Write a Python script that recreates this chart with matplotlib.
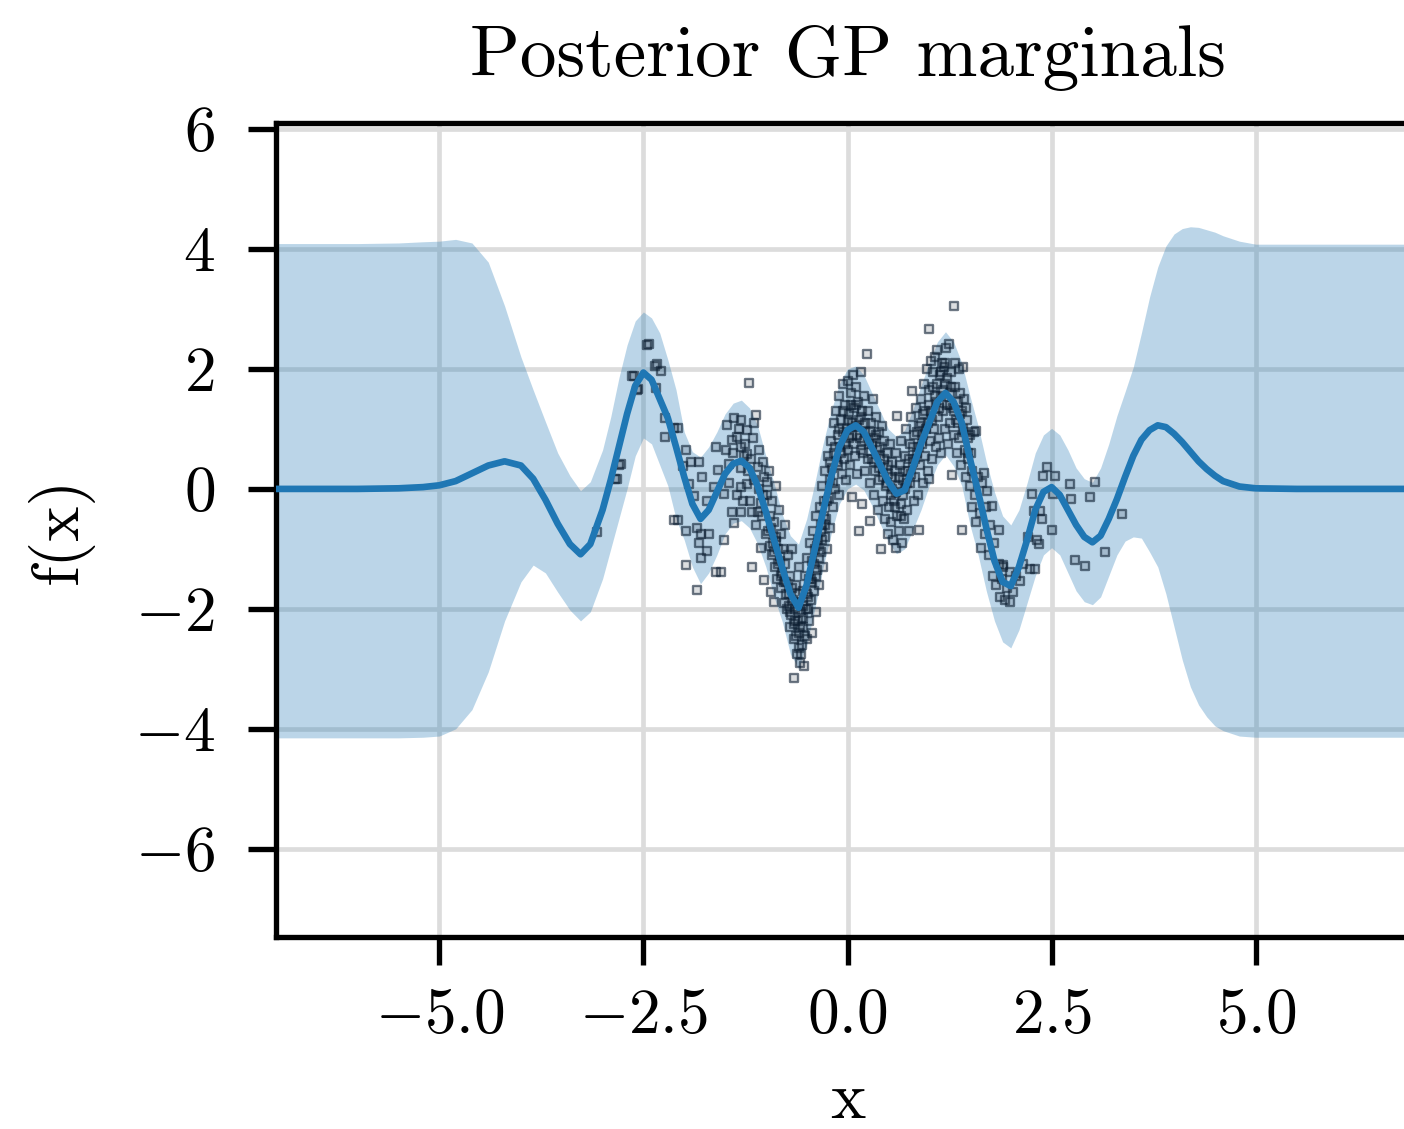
import matplotlib
matplotlib.use("Agg")
import matplotlib.pyplot as plt
import numpy as np

plt.rcParams["font.family"] = "serif"
plt.rcParams["font.serif"] = ["cmr10"]
plt.rcParams["mathtext.fontset"] = "cm"
plt.rcParams["axes.formatter.use_mathtext"] = True

# posterior marginals
grid_x = [-7.0, -6.0, -5.5, -5.2, -5.0, -4.8, -4.6, -4.4, -4.2, -4.0,
          -3.85, -3.7, -3.55, -3.4, -3.27, -3.15, -3.0, -2.9, -2.8, -2.7,
          -2.6, -2.5, -2.4, -2.3, -2.2, -2.1, -2.0, -1.9, -1.8, -1.7,
          -1.6, -1.5, -1.4, -1.3, -1.2, -1.1, -1.0, -0.9, -0.8, -0.7,
          -0.6, -0.5, -0.4, -0.3, -0.2, -0.1, 0.0, 0.1, 0.2, 0.3,
          0.4, 0.5, 0.6, 0.7, 0.8, 0.9, 1.0, 1.1, 1.2, 1.3,
          1.4, 1.5, 1.6, 1.7, 1.8, 1.9, 2.0, 2.1, 2.2, 2.3,
          2.4, 2.5, 2.6, 2.7, 2.8, 2.9, 3.0, 3.1, 3.2, 3.3,
          3.4, 3.5, 3.6, 3.7, 3.8, 3.9, 4.0, 4.1, 4.2, 4.3,
          4.4, 4.5, 4.6, 4.8, 5.0, 5.5, 6.0, 7.0]
post_mean = [0.00, 0.00, 0.01, 0.03, 0.06, 0.13, 0.26, 0.39, 0.46, 0.39,
             0.17, -0.18, -0.58, -0.92, -1.09, -0.92, -0.35, 0.15, 0.70, 1.25,
             1.72, 1.94, 1.82, 1.50, 1.18, 0.70, 0.20, -0.25, -0.50, -0.35,
             -0.05, 0.25, 0.42, 0.47, 0.35, 0.05, -0.38, -0.85, -1.31, -1.75,
             -1.98, -1.60, -1.00, -0.38, 0.20, 0.70, 0.98, 1.06, 0.95, 0.68,
             0.40, 0.12, -0.08, -0.02, 0.35, 0.75, 1.10, 1.45, 1.60, 1.45,
             1.10, 0.50, -0.05, -0.65, -1.20, -1.55, -1.62, -1.30, -0.85, -0.35,
             -0.05, 0.03, -0.10, -0.35, -0.60, -0.80, -0.89, -0.78, -0.50, -0.17,
             0.20, 0.55, 0.82, 0.98, 1.06, 1.03, 0.92, 0.78, 0.62, 0.46,
             0.33, 0.22, 0.13, 0.04, 0.01, 0.00, 0.00, 0.00]
band_hi = [4.09, 4.09, 4.10, 4.12, 4.13, 4.16, 4.10, 3.78, 3.05, 2.20,
           1.65, 1.12, 0.60, 0.22, -0.03, 0.12, 0.65, 1.20, 1.85, 2.40,
           2.80, 2.95, 2.85, 2.60, 2.15, 1.65, 0.95, 0.62, 0.53, 0.70,
           0.95, 1.25, 1.43, 1.48, 1.35, 1.05, 0.55, 0.10, -0.42, -0.78,
           -0.92, -0.50, 0.10, 0.75, 1.30, 1.75, 2.00, 2.05, 1.90, 1.60,
           1.30, 1.00, 0.87, 0.98, 1.32, 1.72, 2.10, 2.45, 2.62, 2.45,
           2.10, 1.55, 1.05, 0.45, -0.05, -0.45, -0.60, -0.35, 0.10, 0.60,
           0.90, 1.01, 0.90, 0.65, 0.35, 0.17, 0.11, 0.35, 0.75, 1.22,
           1.62, 2.03, 2.60, 3.20, 3.70, 4.05, 4.25, 4.34, 4.37, 4.36,
           4.32, 4.28, 4.22, 4.13, 4.08, 4.08, 4.08, 4.08]
band_lo = [-4.15, -4.15, -4.15, -4.14, -4.12, -4.00, -3.68, -3.05, -2.20, -1.55,
           -1.27, -1.40, -1.72, -2.02, -2.20, -2.05, -1.50, -1.00, -0.50, 0.00,
           0.55, 0.85, 0.75, 0.40, 0.05, -0.50, -0.85, -1.30, -1.58, -1.40,
           -1.10, -0.75, -0.57, -0.53, -0.65, -0.92, -1.30, -1.80, -2.21, -2.75,
           -2.99, -2.60, -2.00, -1.32, -0.75, -0.25, 0.00, 0.08, -0.02, -0.28,
           -0.58, -0.88, -1.08, -1.00, -0.68, -0.35, 0.05, 0.40, 0.57, 0.38,
           0.05, -0.60, -1.10, -1.70, -2.20, -2.55, -2.65, -2.35, -1.90, -1.45,
           -1.10, -0.98, -1.10, -1.40, -1.70, -1.88, -1.93, -1.80, -1.45, -1.10,
           -0.87, -0.80, -0.82, -1.05, -1.30, -1.75, -2.30, -2.85, -3.30, -3.60,
           -3.80, -3.95, -4.03, -4.12, -4.14, -4.14, -4.14, -4.14]

# observations (x, y), estimated from the point cloud
obs = [
    (-3.07, -0.72), (-2.85, 0.17), (-2.82, 0.17), (-2.80, 0.40), (-2.78, 0.42),
    (-2.64, 1.88), (-2.61, 1.89), (-2.58, 1.65), (-2.57, 1.66), (-2.46, 2.40),
    (-2.43, 2.42), (-2.36, 2.05), (-2.33, 2.08), (-2.28, 1.97), (-2.34, 1.68),
    (-2.24, 1.19), (-2.23, 0.87), (-2.13, 1.01), (-2.08, 1.01), (-2.13, -0.52),
    (-2.08, -0.51), (-2.02, 0.39), (-1.98, 0.65), (-1.98, -0.70), (-1.98, -1.27),
    (-1.94, 0.08), (-1.92, 0.45), (-1.88, -0.11), (-1.84, -0.65), (-1.84, -1.69),
    (-1.82, 0.45), (-1.82, -0.90), (-1.80, -0.76), (-1.80, -1.15), (-1.78, 0.20),
    (-1.72, -0.20), (-1.72, -1.04), (-1.70, -0.76), (-1.63, 0.03), (-1.61, 0.70),
    (-1.61, -1.38), (-1.59, 0.31), (-1.55, -1.38), (-1.51, -0.08), (-1.51, -0.85),
    (-1.49, 0.65), (-1.47, 1.07), (-1.45, 0.42), (-1.41, 0.82), (-1.41, -0.39),
    (-1.39, 1.18), (-1.39, -0.56), (-1.35, 0.87), (-1.31, 1.15), (-1.31, 0.70),
    (-1.31, 0.03), (-1.31, -0.39), (-1.23, 0.99), (-1.23, 0.59), (-1.23, 0.08),
    (-1.21, 1.77), (-1.17, -0.39), (-1.17, -1.30), (-1.14, 1.10), (-1.12, 1.24),
    (-1.10, 0.37), (-1.10, -0.39), (-1.06, -0.23), (-1.06, -0.99), (-1.02, 0.20),
    (-1.02, -1.52), (-0.98, 0.11), (-0.94, -0.65), (-0.94, -1.72), (-0.90, -1.89),
    (-0.88, -0.87),
    (-0.98, -0.10), (-0.97, -0.70), (-0.96, 0.30), (-0.95, -0.45), (-0.93, -1.10),
    (-0.92, -0.20), (-0.91, -0.90), (-0.90, -0.55), (-0.89, -1.30), (-0.88, 0.05),
    (-0.87, -0.80), (-0.86, -1.50), (-0.85, -1.00), (-0.84, -0.35), (-0.83, -1.20),
    (-0.82, -1.65), (-0.81, -0.75), (-0.80, -1.40), (-0.79, -1.00), (-0.78, -1.90),
    (-0.77, -1.25), (-0.76, -0.60), (-0.75, -1.55), (-0.74, -2.00), (-0.73, -1.10),
    (-0.72, -1.75), (-0.71, -2.30), (-0.70, -1.45), (-0.69, -2.10), (-0.68, -1.00),
    (-0.67, -1.85), (-0.66, -2.50), (-0.65, -3.15), (-0.64, -2.20), (-0.63, -1.60),
    (-0.62, -2.75), (-0.61, -1.90), (-0.60, -2.40), (-0.59, -1.30), (-0.58, -2.90),
    (-0.57, -2.05), (-0.56, -2.60), (-0.55, -1.70), (-0.54, -2.30), (-0.53, -2.95),
    (-0.52, -1.45), (-0.51, -2.00), (-0.50, -2.50), (-0.49, -1.15), (-0.48, -1.80),
    (-0.47, -2.20), (-0.46, -0.90), (-0.45, -1.50), (-0.44, -2.40), (-0.43, -1.20),
    (-0.42, -0.70), (-0.41, -1.70), (-0.40, -1.00), (-0.39, -2.05), (-0.38, -0.45),
    (-0.37, -1.35), (-0.36, -0.85), (-0.35, -1.60), (-0.34, -0.30), (-0.33, -1.05),
    (-0.32, -0.60), (-0.31, 0.05), (-0.30, -1.30), (-0.29, -0.20), (-0.28, -0.80),
    (-0.27, 0.30), (-0.26, -0.50), (-0.25, -1.00), (-0.24, 0.55), (-0.23, -0.15),
    (-0.22, 0.15), (-0.21, -0.65), (-0.20, 0.80), (-0.19, 0.35), (-0.18, -0.30),
    (-0.17, 1.10), (-0.16, 0.60), (-0.15, 0.00), (-0.14, 1.30), (-0.13, 0.45),
    (-0.12, 0.90), (-0.11, -0.10), (-0.10, 1.55), (-0.09, 0.70), (-0.08, 1.15),
    (-0.07, 0.25), (-0.06, 1.75), (-0.05, 0.95), (-0.04, 0.50), (-0.03, 1.40),
    (-0.02, 0.15), (-0.01, 1.00), (0.00, 1.80), (0.01, 0.65), (0.02, 1.25),
    (0.03, 0.40), (0.04, 1.60), (0.05, 0.90), (0.06, -0.14), (0.07, 1.90),
    (0.08, 1.35), (0.09, 0.55), (0.10, 1.05), (0.11, 1.70), (0.12, 0.25),
    (0.13, 1.45), (0.14, -0.70), (0.15, 0.85), (0.16, 1.95), (0.17, 1.20),
    (0.18, -0.25), (0.19, 0.60), (0.20, 1.55), (0.21, 0.95), (0.22, 0.30),
    (0.24, 2.25), (0.25, 1.30), (0.26, 0.75), (0.27, -0.53), (0.28, 0.10),
    (0.29, 1.10), (0.30, 0.50), (0.31, 1.50), (0.32, 0.85), (0.33, -0.10),
    (0.34, 0.30), (0.35, 1.20), (0.36, 0.65), (0.37, -0.35), (0.38, 0.95),
    (0.39, 0.15), (0.40, 0.55), (0.41, -1.01), (0.42, 1.05), (0.43, -0.20),
    (0.44, 0.35), (0.45, 0.80), (0.46, -0.50), (0.47, 0.05), (0.48, 0.60),
    (0.49, -0.75), (0.50, 0.25), (0.51, -0.30), (0.52, 0.75), (0.53, -0.55),
    (0.54, 0.00), (0.55, 0.45), (0.56, -0.85), (0.57, -0.20), (0.58, 0.30),
    (0.59, -0.99), (0.60, 0.60), (0.61, -0.45), (0.61, 1.22), (0.62, 0.05),
    (0.63, -0.70), (0.64, 0.40), (0.65, -0.25), (0.66, 0.80), (0.67, -0.90),
    (0.68, 0.15), (0.69, -0.50), (0.70, 0.55), (0.71, 0.00), (0.72, 1.00),
    (0.73, -0.35), (0.74, 0.30), (0.75, -0.70), (0.76, 0.75), (0.77, 0.10),
    (0.78, 1.20), (0.79, 1.64), (0.80, 0.45), (0.81, -0.20), (0.82, 0.90),
    (0.83, 0.20), (0.84, 1.35), (0.85, 0.60), (0.86, -0.10), (0.87, -0.68),
    (0.88, 1.05), (0.89, 0.40), (0.90, 1.50), (0.91, 0.75), (0.92, 0.10),
    (0.93, 1.25), (0.94, 1.75), (0.95, 0.55), (0.96, 1.00), (0.97, 2.00),
    (0.98, 0.30), (0.995, 2.66), (0.995, 0.16), (1.00, 1.40), (1.01, 0.80),
    (1.02, 2.14), (1.03, 1.15), (1.04, 0.50), (1.05, 1.70), (1.06, 1.00),
    (1.07, 2.20), (1.08, 0.70), (1.09, 1.45), (1.10, 2.31), (1.11, 1.20),
    (1.12, 0.85), (1.13, 1.90), (1.14, 1.55), (1.15, 0.60), (1.16, 2.10),
    (1.17, 1.30), (1.18, 2.03), (1.19, 1.00), (1.20, 1.75), (1.21, 2.35),
    (1.22, 1.40), (1.23, 0.75), (1.24, 2.42), (1.25, 1.60), (1.26, 1.10),
    (1.27, 1.95), (1.28, 0.24), (1.29, 1.35), (1.30, 0.90), (1.31, 3.05),
    (1.32, 1.70), (1.33, 1.15), (1.34, 0.60), (1.35, 1.45), (1.36, 2.00),
    (1.37, 0.85), (1.38, 1.25), (1.39, 0.40), (1.40, -0.68), (1.41, 1.00),
    (1.42, 2.03), (1.43, 1.50), (1.44, 0.65), (1.45, 0.20), (1.46, 1.15),
    (1.47, 0.50), (1.48, 0.85), (1.50, 0.05), (1.51, 0.60), (1.52, -0.30),
    (1.53, 0.30), (1.55, 0.95), (1.56, -0.10), (1.57, 0.97), (1.58, -0.55),
    (1.60, 0.20), (1.62, -0.40), (1.63, -0.99), (1.65, 0.10), (1.67, 0.27),
    (1.68, -0.75), (1.70, -0.30), (1.71, -0.04), (1.73, -1.10), (1.75, -0.60),
    (1.77, -0.29), (1.78, -1.45), (1.80, -0.90), (1.82, -1.60), (1.85, -0.68),
    (1.86, -1.25), (1.87, -1.81), (1.89, -1.50), (1.91, -1.27), (1.91, -1.31),
    (1.93, -1.86), (1.95, -1.65), (1.99, -1.39), (1.99, -1.89), (2.03, -1.72),
    (2.06, -1.45), (2.11, -1.53), (2.15, -1.25), (2.21, -0.81), (2.23, -1.33),
    (2.26, -0.08), (2.28, -0.36), (2.30, -1.33), (2.32, -0.86), (2.34, -0.92),
    (2.36, -0.36), (2.38, -0.50), (2.40, 0.22), (2.44, 0.36), (2.50, -0.69),
    (2.52, -0.08), (2.54, 0.22), (2.72, 0.08), (2.74, -0.17), (2.79, -1.19),
    (2.91, -1.28), (2.97, -0.14), (3.03, 0.11), (3.15, -1.06), (3.36, -0.42),
    # second pass over the densest parts of the cloud
    (-1.45, 0.10), (-1.40, 0.60), (-1.35, -0.10), (-1.30, 0.35), (-1.25, 0.75),
    (-1.20, -0.20), (-1.18, 0.50), (-1.15, 0.15), (-1.12, -0.60), (-1.08, 0.00),
    (-1.05, -0.45), (-1.03, 0.45), (-1.00, -0.75), (-1.27, 0.55), (-1.22, 0.30),
    (-1.16, 0.85), (-1.09, 0.65), (-1.04, -0.10), (-1.33, 1.00), (-1.28, -0.20),
    (-0.95, -0.95), (-0.90, -1.05), (-0.85, -1.25), (-0.82, -1.45), (-0.78, -1.55),
    (-0.75, -1.75), (-0.72, -1.95), (-0.70, -2.05), (-0.68, -1.65), (-0.66, -2.25),
    (-0.64, -2.00), (-0.63, -2.45), (-0.61, -2.20), (-0.60, -2.65), (-0.59, -1.75),
    (-0.58, -2.30), (-0.57, -2.75), (-0.55, -2.15), (-0.54, -1.95), (-0.52, -2.45),
    (-0.50, -1.75), (-0.48, -2.00), (-0.47, -1.50), (-0.45, -1.85), (-0.43, -1.55),
    (-0.41, -1.25), (-0.39, -1.45), (-0.37, -0.95), (-0.35, -1.15), (-0.33, -0.70),
    (-0.31, -0.85), (-0.29, -0.45), (-0.27, -0.60), (-0.25, -0.20),
    (-0.22, 0.45), (-0.18, 0.10), (-0.15, 0.70), (-0.12, 0.40), (-0.10, 1.00),
    (-0.08, 0.60), (-0.05, 1.30), (-0.03, 0.75), (0.00, 1.15), (0.02, 0.85),
    (0.04, 1.40), (0.06, 1.10), (0.08, 0.75), (0.10, 1.40), (0.12, 0.90),
    (0.14, 1.15), (0.16, 0.65), (0.18, 1.30), (0.20, 0.80), (0.22, 1.10),
    (0.25, 0.50), (0.27, 0.95), (0.30, 0.75), (0.33, 0.45), (0.35, 0.90),
    (0.38, 0.35), (0.40, 0.70), (0.43, 0.20), (0.45, 0.50), (0.48, 0.10),
    (0.50, 0.40), (0.53, -0.10), (0.55, 0.20), (0.58, -0.30), (0.60, -0.05),
    (0.63, 0.20), (0.65, -0.45), (0.68, -0.10), (0.70, 0.30), (0.73, 0.10),
    (0.75, 0.50), (0.78, 0.25), (0.80, 0.70),
    (0.83, 0.50), (0.85, 0.95), (0.88, 0.70), (0.90, 1.10), (0.93, 0.90),
    (0.95, 1.30), (0.98, 1.10), (1.00, 1.65), (1.02, 1.30), (1.05, 1.95),
    (1.07, 1.55), (1.10, 1.75), (1.12, 1.35), (1.15, 1.95), (1.17, 1.65),
    (1.20, 2.10), (1.22, 1.85), (1.25, 1.40), (1.27, 1.70), (1.30, 1.30),
    (1.32, 2.10), (1.35, 1.10), (1.38, 1.60), (1.40, 1.30), (1.43, 0.95),
    (1.45, 1.35), (1.48, 0.60), (1.50, 0.90),
]
obs_x = [p[0] for p in obs]
obs_y = [p[1] for p in obs]

fig = plt.figure(figsize=(1404 / 480, 1129 / 480), dpi=480)
ax = fig.add_axes([276 / 1404, 1 - 937 / 1129, (1419 - 276) / 1404, (937 - 123) / 1129])

ax.set_axisbelow(True)
ax.grid(True, color="#dcdcdc", linewidth=0.7)
ax.fill_between(grid_x, band_lo, band_hi, color="C0", alpha=0.3, linewidth=0)
ax.scatter(obs_x, obs_y, marker="s", s=1.5, facecolors=(0.1, 0.15, 0.2, 0.15),
           edgecolors=(0.05, 0.12, 0.2, 0.6), linewidths=0.35, zorder=3)
ax.plot(grid_x, post_mean, color="C0", linewidth=1.0, zorder=4)

ax.set_xlim(-7, 7)
ax.set_ylim(-7.47, 6.1)
ax.set_xticks([-5.0, -2.5, 0.0, 2.5, 5.0])
ax.set_yticks([-6, -4, -2, 0, 2, 4, 6])
ax.tick_params(labelsize=9.5, length=4.2, width=0.8)
ax.tick_params(axis="x", pad=3.5)
ax.tick_params(axis="y", pad=5)
for sp in ax.spines.values():
    sp.set_linewidth(0.8)

ax.set_title("Posterior GP marginals", fontsize=11, pad=7)
ax.set_xlabel("x", fontsize=10, labelpad=3.8)
ax.set_ylabel("f(x)", fontsize=10, labelpad=6)

fig.savefig("out.png", dpi=480)
